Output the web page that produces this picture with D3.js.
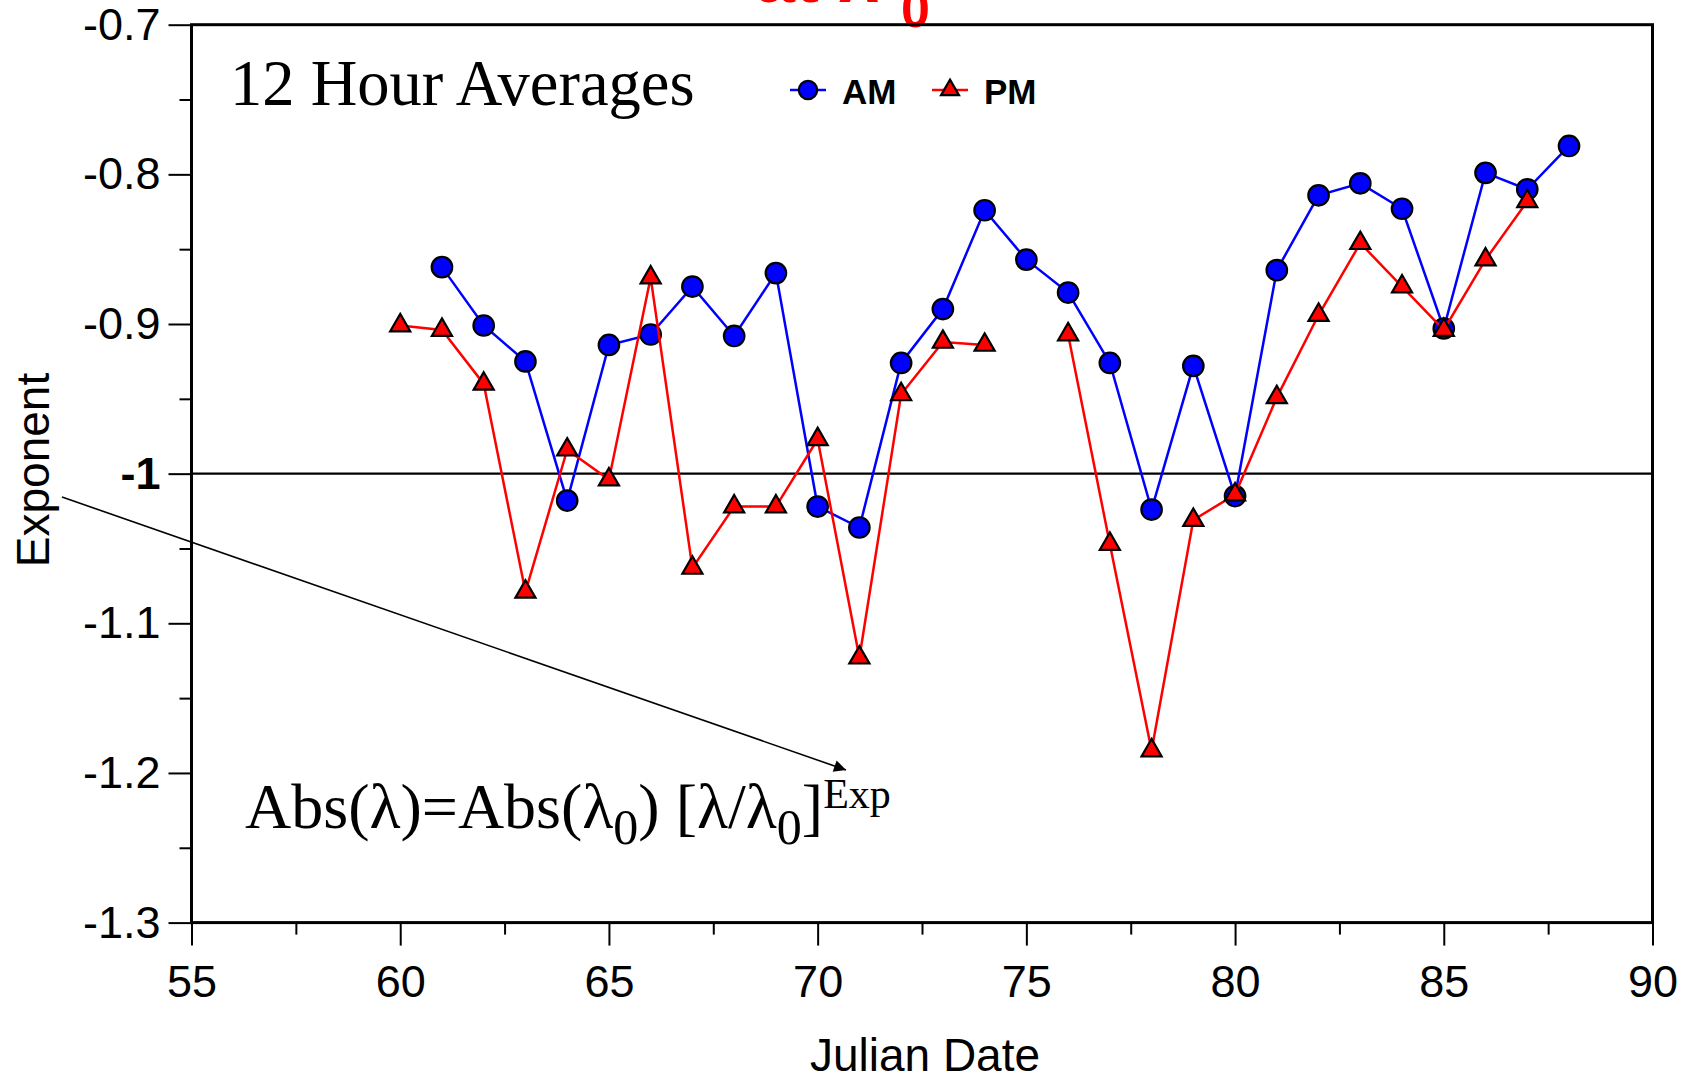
<!DOCTYPE html>
<html>
<head>
<meta charset="utf-8">
<script src="https://cdn.jsdelivr.net/npm/d3@7"></script>
<style>
	body { margin: 0; background: #fff; }
	svg { display: block; }
	.tick text { font-family: Arial, "Liberation Sans", sans-serif; font-size: 45px; fill: #000; }
</style>
</head>
<body>
<svg></svg>
<script>
/* 数据 */
const amDays = [61, 62, 63, 64, 65, 66, 67, 68, 69, 70, 71, 72, 73, 74, 75, 76, 77, 78, 79, 80, 81, 82, 83, 84, 85, 86, 87, 88];
const amValues = [-0.862, -0.901, -0.925, -1.018, -0.914, -0.907, -0.875, -0.908, -0.866, -1.022, -1.036, -0.926, -0.890, -0.824,
	-0.857, -0.879, -0.926, -1.024, -0.928, -1.015, -0.864, -0.814, -0.806, -0.823, -0.903, -0.799, -0.810, -0.781];
const pmDays = [60, 61, 62, 63, 64, 65, 66, 67, 68, 69, 70, 71, 72, 73, 74, 75, 76, 77, 78, 79, 80, 81, 82, 83, 84, 85, 86, 87];
const pmValues = [-0.901, -0.904, -0.940, -1.079, -0.984, -1.004, -0.869, -1.063, -1.022, -1.022, -0.977, -1.123, -0.947, -0.912,
	-0.914, null, -0.907, -1.047, -1.185, -1.031, -1.014, -0.949, -0.894, -0.846, -0.875, -0.904, -0.857, -0.818];

const xTicks = [55, 60, 65, 70, 75, 80, 85, 90];
const xTickLabels = ['55', '60', '65', '70', '75', '80', '85', '90'];
const xMinorTicks = [57.5, 62.5, 67.5, 72.5, 77.5, 82.5, 87.5];
const yTicks = [-0.7, -0.8, -0.9, -1, -1.1, -1.2, -1.3];
const yTickLabels = ['-0.7', '-0.8', '-0.9', '-1', '-1.1', '-1.2', '-1.3'];
const yMinorTicks = [-0.75, -0.85, -0.95, -1.05, -1.15, -1.25];

const seriesNames = ['AM', 'PM'];

/* 常参数定义 */
const svgWidth = 1686, svgHeight = 1077;
const plot = {'L': 191.5, 'R': 1652.5, 'T': 24.7, 'B': 922.6};
const majorTick = 23, minorTick = 12;
const sans = 'Arial, "Liberation Sans", sans-serif';
const serif = '"Times New Roman", "Liberation Serif", serif';

const svg = d3.select('body').select('svg')
	.attr('width', svgWidth)
	.attr('height', svgHeight);

const x = d3.scaleLinear().domain([55, 90]).range([plot.L, plot.R]);
const y = d3.scaleLinear().domain([-1.3, -0.7]).range([plot.B, plot.T]);

/* 标题 (只露出底部) */
svg.append('text')
	.attr('x', 755)
	.attr('y', 2)
	.attr('font-family', sans)
	.attr('font-weight', 'bold')
	.attr('font-size', 72)
	.attr('fill', '#f00')
	.text('at λ');
svg.append('text')
	.attr('x', 901)
	.attr('y', 27)
	.attr('font-family', sans)
	.attr('font-weight', 'bold')
	.attr('font-size', 52)
	.attr('fill', '#f00')
	.text('0');

/* 坐标轴 */
svg.append('g')
	.attr('transform', `translate(0,${plot.B})`)
	.call(d3.axisBottom(x).tickValues(xTicks).tickSize(majorTick).tickPadding(19.5).tickSizeOuter(0)
		.tickFormat((d, i) => xTickLabels[i]));
svg.append('g')
	.attr('transform', `translate(0,${plot.B})`)
	.call(d3.axisBottom(x).tickValues(xMinorTicks).tickSize(minorTick).tickFormat('').tickSizeOuter(0));

const yAxis = svg.append('g')
	.attr('transform', `translate(${plot.L},0)`)
	.call(d3.axisLeft(y).tickValues(yTicks).tickSize(majorTick).tickPadding(8).tickSizeOuter(0)
		.tickFormat((d, i) => yTickLabels[i]));
svg.append('g')
	.attr('transform', `translate(${plot.L},0)`)
	.call(d3.axisLeft(y).tickValues(yMinorTicks).tickSize(minorTick).tickFormat('').tickSizeOuter(0));

svg.selectAll('.domain').remove();
svg.selectAll('.tick line').attr('stroke', '#000').attr('stroke-width', 2);
yAxis.selectAll('.tick text').filter((d) => d === -1).attr('font-weight', 'bold');

/* 外框与 -1 参考线 */
svg.append('rect')
	.attr('x', plot.L)
	.attr('y', plot.T)
	.attr('width', plot.R - plot.L)
	.attr('height', plot.B - plot.T)
	.attr('fill', 'none')
	.attr('stroke', '#000')
	.attr('stroke-width', 3);
svg.append('line')
	.attr('x1', plot.L).attr('x2', plot.R)
	.attr('y1', y(-1)).attr('y2', y(-1))
	.attr('stroke', '#000')
	.attr('stroke-width', 2.2);

/* 轴标题 */
svg.append('text')
	.attr('x', 925)
	.attr('y', 1071)
	.attr('text-anchor', 'middle')
	.attr('font-family', sans)
	.attr('font-size', 46)
	.text('Julian Date');
svg.append('text')
	.attr('transform', 'translate(49,470) rotate(-90)')
	.attr('text-anchor', 'middle')
	.attr('font-family', sans)
	.attr('font-size', 46)
	.text('Exponent');

/* 箭头与公式 */
svg.append('defs').append('marker')
	.attr('id', 'arrow')
	.attr('viewBox', '0 -5 10 10')
	.attr('refX', 10)
	.attr('markerWidth', 16)
	.attr('markerHeight', 12)
	.attr('markerUnits', 'userSpaceOnUse')
	.attr('orient', 'auto')
	.append('path')
	.attr('d', 'M0,-5L10,0L0,5Z')
	.attr('fill', '#000');
svg.append('line')
	.attr('x1', 62).attr('y1', 497)
	.attr('x2', 846).attr('y2', 770)
	.attr('stroke', '#000')
	.attr('stroke-width', 1.6)
	.attr('marker-end', 'url(#arrow)');

const formula = svg.append('text')
	.attr('x', 245)
	.attr('y', 828)
	.attr('font-family', serif)
	.attr('font-size', 64)
	.text('Abs(λ)=Abs(λ');
formula.append('tspan').attr('font-size', 50).attr('dy', 16).text('0');
formula.append('tspan').attr('dy', -16).text(') [λ/λ');
formula.append('tspan').attr('font-size', 50).attr('dy', 16).text('0');
formula.append('tspan').attr('dy', -16).text(']');
formula.append('tspan').attr('font-size', 42).attr('dy', -20).text('Exp');

svg.append('text')
	.attr('x', 230)
	.attr('y', 105)
	.attr('font-family', serif)
	.attr('font-size', 64.5)
	.text('12 Hour Averages');

/* 数据系列 */
const series = [
	{name: seriesNames[0], days: amDays, values: amValues, color: '#0000ff', symbol: d3.symbolCircle, size: 330},
	{name: seriesNames[1], days: pmDays, values: pmValues, color: '#ff0000', symbol: d3.symbolTriangle, size: 175}
];

const line = d3.line()
	.defined((d) => d[1] !== null)
	.x((d) => x(d[0]))
	.y((d) => y(d[1]));

series.forEach(function (s) {
	const pts = s.days.map((d, i) => [d, s.values[i]]);
	svg.append('path')
		.attr('d', line(pts))
		.attr('fill', 'none')
		.attr('stroke', s.color)
		.attr('stroke-width', 2.5);
	svg.append('g').selectAll('path')
		.data(pts.filter((p) => p[1] !== null))
		.enter().append('path')
		.attr('d', d3.symbol(s.symbol, s.size))
		.attr('transform', (d) => `translate(${x(d[0])},${y(d[1])})`)
		.attr('fill', s.color)
		.attr('stroke', '#000')
		.attr('stroke-width', 2.2);
});

/* 图例 */
const legendX = [790, 932];
series.forEach(function (s, i) {
	const g = svg.append('g').attr('transform', `translate(${legendX[i]},90)`);
	g.append('line')
		.attr('x1', 0).attr('x2', 36)
		.attr('stroke', s.color)
		.attr('stroke-width', 2.5);
	g.append('path')
		.attr('d', d3.symbol(s.symbol, s.size * 0.8))
		.attr('transform', 'translate(18,0)')
		.attr('fill', s.color)
		.attr('stroke', '#000')
		.attr('stroke-width', 2.2);
	g.append('text')
		.attr('x', 52)
		.attr('y', 14)
		.attr('font-family', sans)
		.attr('font-weight', 'bold')
		.attr('font-size', 35)
		.text(s.name);
});
</script>
</body>
</html>
